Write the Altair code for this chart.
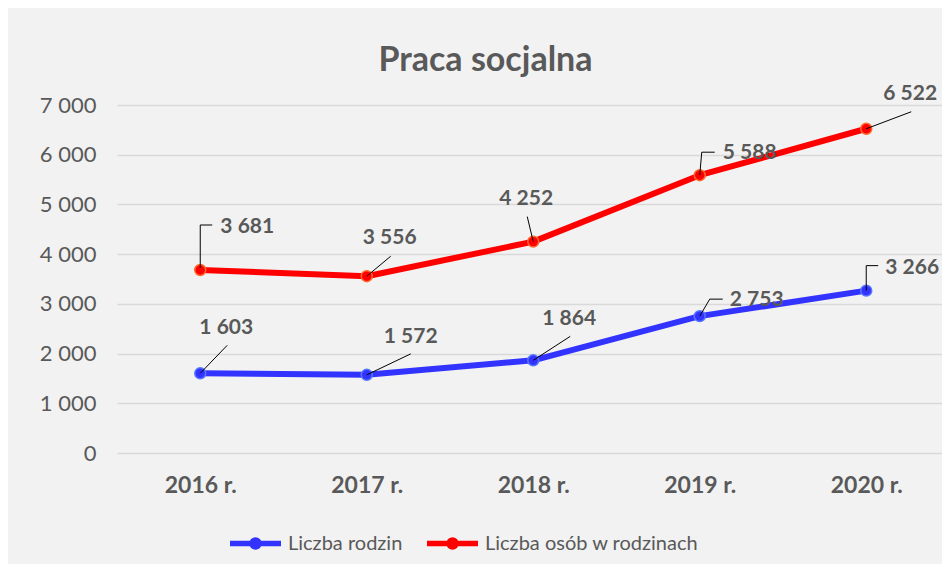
import altair as alt
import pandas as pd

# ---- data ----
years = [2016, 2017, 2018, 2019, 2020]
year_suffix = " r."
series_names = ["Liczba rodzin", "Liczba osób w rodzinach"]
rodziny = [1603, 1572, 1864, 2753, 3266]
osoby = [3681, 3556, 4252, 5588, 6522]
y_ticks = [0, 1000, 2000, 3000, 4000, 5000, 6000, 7000]
title_text = "Praca socjalna"

# ---- style ----
colors = ["#3333FF", "#FF0000"]
ring_colors = ["#5577FF", "#FF6A2A"]
grey = "#595959"
FONT = "Lato"
W, H = 825, 348
X_DOMAIN = [2015.5, 2020.455]
Y_DOMAIN = [0, 7000]
x_px = W / (X_DOMAIN[1] - X_DOMAIN[0])   # pixels per year
y_px = H / (Y_DOMAIN[1] - Y_DOMAIN[0])   # pixels per unit

# label offsets in pixels (dx right, dy down) relative to the point
label_offsets = {
    "Liczba rodzin": [(26, -45), (44, -38), (36, -41), (57, -16), (46, -23)],
    "Liczba osób w rodzinach": [(47, -43), (23, -38), (-7, -43), (50, -22), (44, -35)],
}
# leader-line vertices in pixels relative to the point
leaders = {
    "Liczba rodzin": [
        [(0, 0), (27, -28)],
        [(0, 0), (44, -21)],
        [(0, 0), (37, -24)],
        [(0, 0), (10, -17), (23, -17)],
        [(0, 0), (0, -25), (12, -25)],
    ],
    "Liczba osób w rodzinach": [
        [(0, -2), (0, -45), (12, -45)],
        [(0, 0), (24, -20)],
        [(0, 0), (-6, -25)],
        [(0, 0), (2, -23), (15, -23)],
        [(0, 0), (45, -17)],
    ],
}

values = {"Liczba rodzin": rodziny, "Liczba osób w rodzinach": osoby}

pts, labs, lead = [], [], []
for name in series_names:
    for i, (yr, v) in enumerate(zip(years, values[name])):
        pts.append({"series": name, "year": yr, "value": v})
        dx, dy = label_offsets[name][i]
        labs.append({
            "series": name,
            "lx": yr + dx / x_px,
            "ly": v - dy / y_px,
            "label": f"{v:,}".replace(",", " "),
        })
        for k, (px, py) in enumerate(leaders[name][i]):
            lead.append({
                "lid": f"{name}-{yr}",
                "ord": k,
                "lx": yr + px / x_px,
                "ly": v - py / y_px,
            })

df = pd.DataFrame(pts)
df_lab = pd.DataFrame(labs)
df_lead = pd.DataFrame(lead)

x_scale = alt.Scale(domain=X_DOMAIN, nice=False, zero=False)
y_scale = alt.Scale(domain=Y_DOMAIN, nice=False)

legend_path = ("M-1,0L1,0M0.137,0A0.137,0.137,0,1,1,-0.137,0"
               "A0.137,0.137,0,1,1,0.137,0")

x_enc = alt.X(
    "year:Q", scale=x_scale, title=None,
    axis=alt.Axis(values=years, labelExpr=f"datum.value + '{year_suffix}'",
                  grid=False, ticks=False, domain=False,
                  labelFontWeight="bold", labelFontSize=23, labelColor=grey,
                  labelFont=FONT, labelPadding=21),
)
y_enc = alt.Y(
    "value:Q", scale=y_scale, title=None,
    axis=alt.Axis(values=y_ticks,
                  labelExpr="replace(format(datum.value, ','), ',', ' ')",
                  grid=True, gridColor="#D9D9D9", gridWidth=1.5,
                  ticks=False, domain=False, labelFontSize=22,
                  labelColor=grey, labelFont=FONT, labelPadding=21),
)

lines = alt.Chart(df).mark_line(strokeWidth=6, strokeCap="round",
                                strokeJoin="round").encode(
    x=x_enc, y=y_enc,
    color=alt.Color(
        "series:N",
        scale=alt.Scale(domain=series_names, range=colors),
        legend=alt.Legend(
            title=None, orient="none", direction="horizontal",
            legendX=110, legendY=410,
            symbolType=legend_path, symbolSize=2601, symbolStrokeWidth=5.5,
            labelFont=FONT, labelFontSize=20, labelColor=grey,
            labelOffset=4, columnPadding=13, padding=0, labelLimit=0,
        ),
    ),
    detail="series:N",
)

points = alt.Chart(df).mark_point(filled=True, size=120, strokeWidth=1.5,
                                  opacity=1).encode(
    x="year:Q", y="value:Q",
    fill=alt.Fill("series:N", scale=alt.Scale(domain=series_names, range=colors),
                  legend=None),
    stroke=alt.Stroke("series:N",
                      scale=alt.Scale(domain=series_names, range=ring_colors),
                      legend=None),
)

leader_lines = alt.Chart(df_lead).mark_line(color="black", strokeWidth=1).encode(
    x=alt.X("lx:Q", scale=x_scale),
    y=alt.Y("ly:Q", scale=y_scale),
    detail="lid:N",
    order="ord:Q",
)

labels = alt.Chart(df_lab).mark_text(
    font=FONT, fontSize=21, fontWeight="bold", color=grey,
    align="center", baseline="middle",
).encode(
    x=alt.X("lx:Q", scale=x_scale),
    y=alt.Y("ly:Q", scale=y_scale),
    text="label:N",
)

chart = alt.layer(lines, points, leader_lines, labels).properties(
    width=W, height=H,
    title=alt.Title(title_text, font=FONT, fontSize=34, fontWeight="bold",
                    color=grey, anchor="middle", dx=-44, offset=5),
    autosize=alt.AutoSizeParams(type="none"),
    padding={"left": 109, "top": 97, "right": 0, "bottom": 111},
    background="#F2F2F2",
).configure_view(stroke=None)

chart.save("out.html", embed_options={"renderer": "svg", "actions": False})
